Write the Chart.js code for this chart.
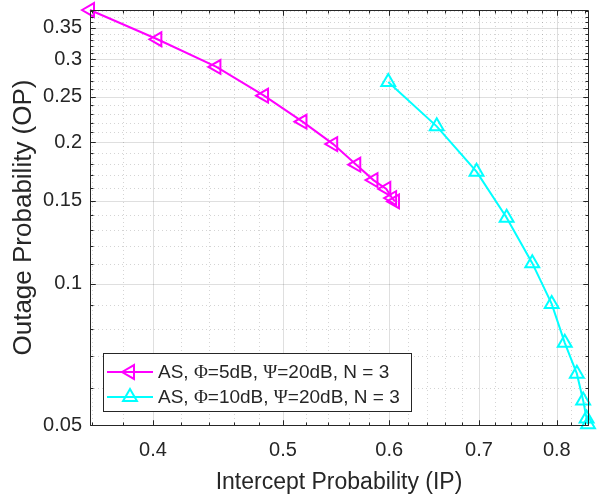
<!DOCTYPE html>
<html>
<head>
<meta charset="utf-8">
<script src="https://cdn.jsdelivr.net/npm/chart.js@4/dist/chart.umd.min.js"></script>
<style>
  html, body { margin: 0; padding: 0; background: #fff; }
  #wrap { width: 616px; height: 500px; position: relative; }
</style>
</head>
<body>
<div id="wrap"><canvas id="grafico"></canvas></div>
<script>
// ---- data ----
const ipAS5  = [0.359, 0.403, 0.446, 0.484, 0.517, 0.545, 0.567, 0.584, 0.597, 0.603, 0.606];
const opAS5  = [0.382, 0.331, 0.289, 0.251, 0.221, 0.198, 0.179, 0.166, 0.159, 0.152, 0.1495];
const ipAS10 = [0.599, 0.651, 0.697, 0.734, 0.767, 0.793, 0.811, 0.828, 0.837, 0.842, 0.844];
const opAS10 = [0.2685, 0.216, 0.173, 0.138, 0.1105, 0.0905, 0.0748, 0.0643, 0.0564, 0.0516, 0.0502];

const seriesLabels = ['AS, Φ=5dB, Ψ=20dB, N = 3', 'AS, Φ=10dB, Ψ=20dB, N = 3'];

// tick labels (major) and minor grid steps
const xTicks = [0.4, 0.5, 0.6, 0.7, 0.8];
const yTicks = [0.05, 0.1, 0.15, 0.2, 0.25, 0.3, 0.35];
const xRange = [0.359, 0.844];
const yRange = [0.05, 0.382];

const xMinor = [];
for (let v = 36; v <= 84; v += 2) xMinor.push(v / 100);
const yMinor = [];
for (let v = 5; v <= 38; v++) yMinor.push(v / 100);

const AXIS = '#262626';
const FONT = '"Liberation Sans", Arial, Helvetica, sans-serif';

function toPoints(xs, ys) {
    return xs.map((x, i) => ({ x: x, y: ys[i] }));
}

// grid + inward ticks + box, MATLAB style
const gridBox = {
    id: 'gridBox',
    beforeDatasetsDraw(chart) {
        const { ctx, chartArea: a, scales: { x, y } } = chart;
        ctx.save();
        ctx.lineWidth = 1;
        // minor dotted
        ctx.strokeStyle = 'rgba(38,38,38,0.2)';
        ctx.setLineDash([1, 3]);
        xMinor.forEach(v => {
            if (xTicks.includes(v)) return;
            const px = Math.round(x.getPixelForValue(v)) + 0.5;
            ctx.beginPath(); ctx.moveTo(px, a.top); ctx.lineTo(px, a.bottom); ctx.stroke();
        });
        yMinor.forEach(v => {
            if (yTicks.includes(v)) return;
            const py = Math.round(y.getPixelForValue(v)) + 0.5;
            ctx.beginPath(); ctx.moveTo(a.left, py); ctx.lineTo(a.right, py); ctx.stroke();
        });
        // major solid
        ctx.setLineDash([]);
        ctx.strokeStyle = 'rgba(38,38,38,0.15)';
        xTicks.forEach(v => {
            const px = Math.round(x.getPixelForValue(v)) + 0.5;
            ctx.beginPath(); ctx.moveTo(px, a.top); ctx.lineTo(px, a.bottom); ctx.stroke();
        });
        yTicks.forEach(v => {
            const py = Math.round(y.getPixelForValue(v)) + 0.5;
            ctx.beginPath(); ctx.moveTo(a.left, py); ctx.lineTo(a.right, py); ctx.stroke();
        });
        ctx.restore();
    },
    afterDatasetsDraw(chart) {
        const { ctx, chartArea: a, scales: { x, y } } = chart;
        ctx.save();
        ctx.strokeStyle = AXIS;
        ctx.lineWidth = 1;
        const L = Math.round(a.left) + 0.5, R = Math.round(a.right) + 0.5;
        const T = Math.round(a.top) + 0.5, B = Math.round(a.bottom) + 0.5;
        ctx.beginPath();
        ctx.rect(L, T, R - L, B - T);
        ctx.stroke();
        xMinor.concat(xTicks).forEach(v => {
            const len = xTicks.includes(v) ? 5 : 3;
            const px = Math.round(x.getPixelForValue(v)) + 0.5;
            ctx.beginPath();
            ctx.moveTo(px, B); ctx.lineTo(px, B - len);
            ctx.moveTo(px, T); ctx.lineTo(px, T + len);
            ctx.stroke();
        });
        yMinor.concat(yTicks).forEach(v => {
            const len = yTicks.includes(v) ? 5 : 3;
            const py = Math.round(y.getPixelForValue(v)) + 0.5;
            ctx.beginPath();
            ctx.moveTo(L, py); ctx.lineTo(L + len, py);
            ctx.moveTo(R, py); ctx.lineTo(R - len, py);
            ctx.stroke();
        });
        ctx.restore();
    }
};

// legend inside the plot, greek letters in a serif face
const legendBox = {
    id: 'legendBox',
    afterDraw(chart) {
        const { ctx } = chart;
        const box = { x: 103.5, y: 353.5, w: 308, h: 58 };
        ctx.save();
        ctx.fillStyle = '#fff';
        ctx.fillRect(box.x, box.y, box.w, box.h);
        ctx.strokeStyle = AXIS;
        ctx.lineWidth = 1;
        ctx.strokeRect(box.x, box.y, box.w, box.h);
        chart.data.datasets.forEach((ds, i) => {
            const cy = 372 + i * 25;
            ctx.strokeStyle = ds.borderColor;
            ctx.lineWidth = ds.borderWidth;
            ctx.beginPath(); ctx.moveTo(107, cy); ctx.lineTo(153, cy); ctx.stroke();
            ctx.fillStyle = 'rgba(0,0,0,0)';
            Chart.helpers.drawPoint(ctx, {
                pointStyle: ds.pointStyle, rotation: ds.rotation,
                radius: ds.pointRadius, borderWidth: ds.pointBorderWidth
            }, 130, cy);
            ctx.fillStyle = AXIS;
            ctx.textBaseline = 'middle';
            let tx = 158;
            ds.label.split(/([ΦΨ])/).forEach(part => {
                if (!part) return;
                ctx.font = /[ΦΨ]/.test(part) ? '19px "Liberation Serif", "DejaVu Serif", serif' : '19px ' + FONT;
                ctx.fillText(part, tx, cy + 1);
                tx += ctx.measureText(part).width;
            });
        });
        ctx.restore();
    }
};

const ctx = document.getElementById('grafico').getContext('2d');
new Chart(ctx, {
    type: 'scatter',
    data: {
        datasets: [{
            label: seriesLabels[0],
            data: toPoints(ipAS5, opAS5),
            showLine: true,
            borderColor: '#ff00ff',
            backgroundColor: 'rgba(0,0,0,0)',
            borderWidth: 2,
            pointStyle: 'triangle',
            rotation: -90,
            pointRadius: 8,
            pointBorderWidth: 2,
            pointBackgroundColor: 'rgba(0,0,0,0)',
            tension: 0,
            clip: false
        }, {
            label: seriesLabels[1],
            data: toPoints(ipAS10, opAS10),
            showLine: true,
            borderColor: '#00ffff',
            backgroundColor: 'rgba(0,0,0,0)',
            borderWidth: 2,
            pointStyle: 'triangle',
            rotation: 0,
            pointRadius: 8,
            pointBorderWidth: 2,
            pointBackgroundColor: 'rgba(0,0,0,0)',
            tension: 0,
            clip: false
        }]
    },
    options: {
        responsive: true,
        maintainAspectRatio: false,
        animation: false,
        layout: { padding: { left: 0, top: 8, right: 28, bottom: 0 } },
        plugins: { legend: { display: false }, tooltip: { enabled: false } },
        scales: {
            x: {
                type: 'logarithmic',
                min: xRange[0], max: xRange[1],
                afterBuildTicks: s => { s.ticks = xTicks.map(v => ({ value: v })); },
                afterFit: s => { s.height = 75; s.paddingLeft = 0; s.paddingRight = 0; },
                grid: { display: false },
                border: { display: false },
                ticks: {
                    autoSkip: false, maxRotation: 0, padding: 5,
                    color: AXIS, font: { family: FONT, size: 20 },
                    callback: v => String(v)
                },
                title: {
                    display: true, text: 'Intercept Probability (IP)', color: AXIS,
                    font: { family: FONT, size: 23 }, padding: { top: 0, bottom: 4 }
                }
            },
            y: {
                type: 'logarithmic',
                min: yRange[0], max: yRange[1],
                afterBuildTicks: s => { s.ticks = yTicks.map(v => ({ value: v })); },
                afterFit: s => { s.width = 90; s.paddingTop = 0; s.paddingBottom = 0; },
                grid: { display: false, drawTicks: false },
                border: { display: false },
                ticks: {
                    autoSkip: false, padding: 8,
                    color: AXIS, font: { family: FONT, size: 20 },
                    callback: v => String(v)
                },
                title: {
                    display: true, text: 'Outage Probability (OP)', color: AXIS,
                    font: { family: FONT, size: 26 }, padding: { top: 8, bottom: 0 }
                }
            }
        }
    },
    plugins: [gridBox, legendBox]
});
</script>
</body>
</html>
